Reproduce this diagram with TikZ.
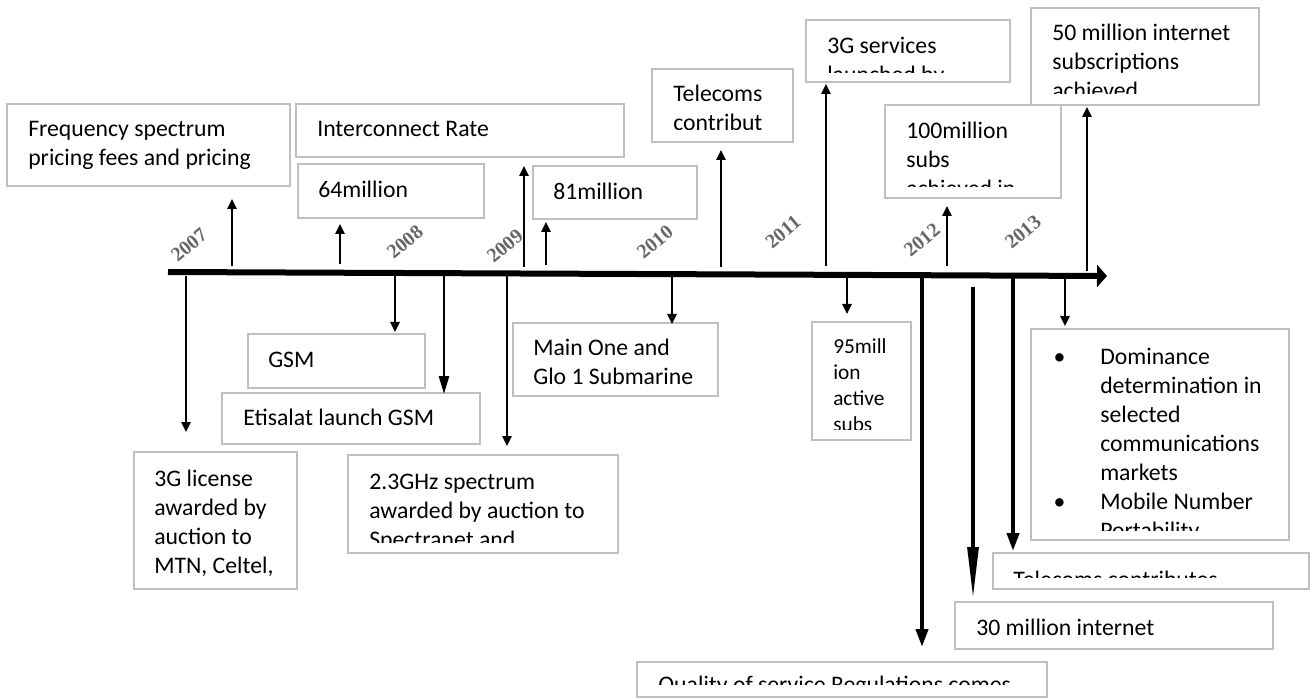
\documentclass[tikz,border=0pt]{standalone}
\usepackage{fontspec}
\setmainfont{Carlito}
\newfontfamily\yearfont{Liberation Serif}
\usetikzlibrary{arrows.meta,fit}

\definecolor{boxgray}{HTML}{BFBFBF}
\definecolor{yeargray}{HTML}{666666}

% text nodes are placed at the baseline of their last line
\tikzstyle{evbox}=[draw={boxgray}, line width=1.5pt, inner sep=0pt]
\tikzstyle{evtext}=[anchor=base west, inner sep=0pt, align=left, font=\fontsize{17.8pt}{21.75pt}\selectfont]
\tikzstyle{evsmall}=[anchor=base west, inner sep=0pt, align=left, font=\fontsize{16pt}{19.5pt}\selectfont]
\tikzstyle{year}=[rotate=40, text={yeargray}, inner sep=0pt, font=\yearfont\bfseries\fontsize{15pt}{15pt}\selectfont]
\tikzstyle{axisline}=[line width=4.5pt, -{Triangle[length=7.5pt, width=16.5pt]}]
\tikzstyle{thin-arrow}=[line width=1.5pt, -{Triangle[length=7.5pt, width=7pt]}]
\tikzstyle{mid-arrow}=[line width=1.9pt, -{Triangle[length=13.5pt, width=7.5pt]}]
\tikzstyle{thick-arrow}=[line width=3pt, -{Triangle[length=13.5pt, width=9pt]}]

\begin{document}
\begin{tikzpicture}[x=0.75pt, y=-0.75pt]
  \useasboundingbox (0,0) rectangle (1316,698);

  % time axis
  \coordinate (axis-start) at (168,272);
  \coordinate (axis-end) at (1107,276);
  \draw[axisline] (axis-start) -- (axis-end);

  \node (y2007) at (189,245) [year] {2007};
  \node (y2008) at (405,242) [year] {2008};
  \node (y2009) at (505,246) [year] {2009};
  \node (y2010) at (655,242) [year] {2010};
  \node (y2011) at (783,232) [year] {2011};
  \node (y2012) at (922,240) [year] {2012};
  \node (y2013) at (1023,232) [year] {2013};

  % boxes above the axis
  \node (freq) [evbox, fit={(7,104) (290,186)}] {};
  \node (freq-t) at (28,166) [evtext] {Frequency spectrum\\pricing fees and pricing};

  \node (inter) [evbox, fit={(296,104) (624,157)}] {};
  \node (inter-t) at (317,137) [evtext] {Interconnect Rate};

  \node (m64) [evbox, fit={(298,164) (484,218)}] {};
  \node (m64-t) at (318,198) [evtext] {64million};

  \node (m81) [evbox, fit={(533,166) (697,219)}] {};
  \node (m81-t) at (553,200) [evtext] {81million};

  \node (telco) [evbox, fit={(652,69) (793,142)}] {};
  \begin{scope}
    \clip (652,69) rectangle (793,130);
    \node (telco-t) at (673,131) [evtext] {Telecoms\\contribut};
  \end{scope}

  \node (threeg) [evbox, fit={(806,20) (1010,82)}] {};
  \begin{scope}
    \clip (806,20) rectangle (1010,73);
    \node (threeg-t) at (827,83) [evtext] {3G services\\launched by};
  \end{scope}

  \node (m100) [evbox, fit={(885,105) (1061,198)}] {};
  \begin{scope}
    \clip (885,105) rectangle (1061,187);
    \node (m100-t) at (906,197) [evtext] {100million\\subs\\achieved in};
  \end{scope}

  \node (net50) [evbox, fit={(1031,8) (1259,105)}] {};
  \begin{scope}
    \clip (1031,8) rectangle (1259,94);
    \node (net50-t) at (1052,99) [evtext] {50 million internet\\subscriptions\\achieved};
  \end{scope}

  % boxes below the axis
  \node (gsm) [evbox, fit={(248,334) (425,388)}] {};
  \node (gsm-t) at (268,368) [evtext] {GSM};

  \node (etis) [evbox, fit={(222,393) (480,444)}] {};
  \node (etis-t) at (243,425) [evtext] {Etisalat launch GSM};

  \node (lic3g) [evbox, fit={(134,452) (297,589)}] {};
  \node (lic3g-t) at (154,573) [evtext] {3G license\\awarded by\\auction to\\MTN, Celtel,};

  \node (ghz) [evbox, fit={(348,455) (618,553)}] {};
  \begin{scope}
    \clip (348,455) rectangle (618,542);
    \node (ghz-t) at (369,547) [evtext] {2.3GHz spectrum\\awarded by auction to\\Spectranet and};
  \end{scope}

  \node (mainone) [evbox, fit={(513,323) (718,396)}] {};
  \begin{scope}
    \clip (513,323) rectangle (718,385);
    \node (mainone-t) at (533,384) [evtext] {Main One and\\Glo 1 Submarine};
  \end{scope}

  \node (m95) [evbox, fit={(812,322) (911,440)}] {};
  \begin{scope}
    \clip (812,322) rectangle (911,429);
    \node (m95-t) at (833,431) [evsmall] {95mill\\ion\\active\\subs};
  \end{scope}

  \node (qos) [evbox, fit={(637,662) (1047,697)}] {};
  \begin{scope}
    \clip (637,662) rectangle (1047,684);
    \node (qos-t) at (658,692) [evtext] {Quality of service Regulations comes};
  \end{scope}

  \node (net30) [evbox, fit={(955,602) (1273,649)}] {};
  \node (net30-t) at (976,635) [evtext] {30 million internet};

  \node (telco2) [evbox, fit={(993,553) (1309,589)}] {};
  \begin{scope}
    \clip (993,553) rectangle (1309,577);
    \node (telco2-t) at (1013,587) [evtext] {Telecoms contributes};
  \end{scope}

  \node (dom) [evbox, fit={(1031,329) (1289,540)}] {};
  \begin{scope}
    \clip (1031,329) rectangle (1289,530);
    \node (dom-t) at (1100,538) [evtext] {\llap{\makebox[35pt][l]{•}}Dominance\\determination in\\selected\\communications\\markets\\\llap{\makebox[35pt][l]{•}}Mobile Number\\Portability};
  \end{scope}

  % arrows up
  \coordinate (ua) at (232,266);
  \coordinate (ub) at (340,264);
  \coordinate (uc) at (524,267);
  \coordinate (ud) at (546,265);
  \coordinate (ue) at (721,267);
  \coordinate (uf) at (826,266);
  \coordinate (ug) at (947,266);
  \coordinate (uh) at (1087,271);
  \draw[thin-arrow, shorten >=9pt] (ua) -- (ua |- freq.south);
  \draw[thin-arrow, shorten >=3.75pt] (ub) -- (ub |- m64.south);
  \draw[thin-arrow, shorten >=6pt] (uc) -- (uc |- inter.south);
  \draw[thin-arrow, shorten >=1.5pt] (ud) -- (ud |- m81.south);
  \draw[thin-arrow, shorten >=5.25pt] (ue) -- (ue |- telco.south);
  \draw[thin-arrow, shorten >=0.75pt] (uf) -- (uf |- threeg.south);
  \draw[thin-arrow, shorten >=5.25pt] (ug) -- (ug |- m100.south);
  \draw[thin-arrow, shorten >=0.75pt] (uh) -- (uh |- net50.south);

  % arrows down
  \coordinate (da) at (186,276);
  \coordinate (db) at (395,276);
  \coordinate (dc) at (444,276);
  \coordinate (dd) at (507,276);
  \coordinate (de) at (672,277);
  \coordinate (df) at (847,277);
  \coordinate (dg) at (922,278);
  \coordinate (dh) at (973,287);
  \coordinate (di) at (1013,278);
  \coordinate (dj) at (1065,278);
  \draw[thin-arrow, shorten >=14.25pt] (da) -- (da |- lic3g.north);
  \draw[thin-arrow, shorten >=0.75pt] (db) -- (db |- gsm.north);
  \draw[mid-arrow, shorten >=-1.5pt] (dc) -- (dc |- etis.north);
  \draw[thin-arrow, shorten >=6pt] (dd) -- (dd |- ghz.north);
  \draw[thin-arrow, shorten >=-1.5pt] (de) -- (de |- mainone.north);
  \draw[thin-arrow, shorten >=5.25pt] (df) -- (df |- m95.north);
  \draw[thick-arrow, shorten >=10.5pt] (dg) -- (dg |- qos.north);
  \draw[line width=3pt, -{Triangle[length=39pt, width=8pt]}, shorten >=1.5pt] (dh) -- (dh |- net30.north);
  \draw[thick-arrow, shorten >=0.75pt] (di) -- (di |- telco2.north);
  \draw[thin-arrow, shorten >=1.5pt] (dj) -- (dj |- dom.north);
\end{tikzpicture}
\end{document}
